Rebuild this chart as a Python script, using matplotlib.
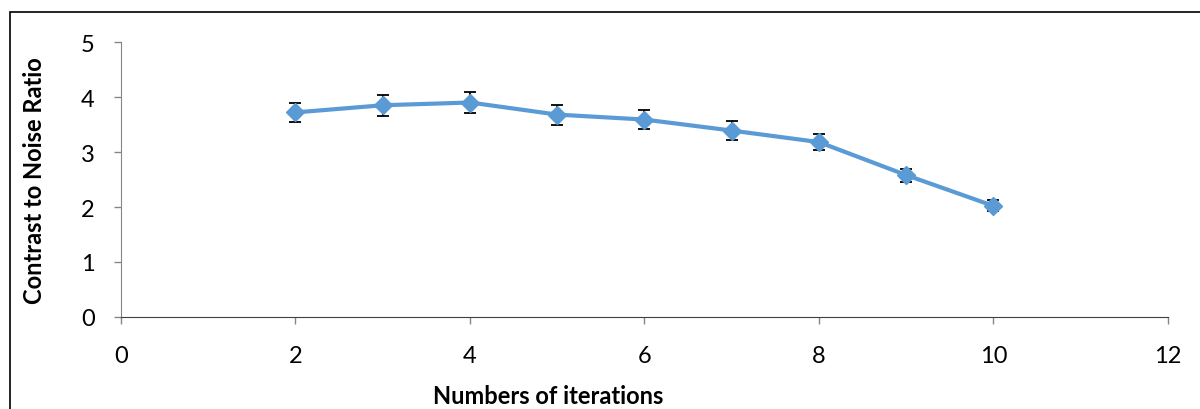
import matplotlib.pyplot as plt
from matplotlib.patches import Rectangle

iterations = [2, 3, 4, 5, 6, 7, 8, 9, 10]
cnr = [3.72, 3.85, 3.90, 3.68, 3.59, 3.39, 3.18, 2.58, 2.02]
cnr_err = [0.18, 0.19, 0.19, 0.18, 0.18, 0.17, 0.15, 0.12, 0.10]
xticks = [0, 2, 4, 6, 8, 10, 12]
yticks = [0, 1, 2, 3, 4, 5]

plt.rcParams['font.family'] = ['Lato', 'DejaVu Sans']

fig = plt.figure(figsize=(12, 4.1), dpi=100)
ax = fig.add_axes([0.1008, 0.2244, 0.8725, 0.6707])

ax.errorbar(iterations, cnr, yerr=cnr_err, color='#5B9BD5', lw=3,
            marker='D', markersize=9.5, ecolor='black', elinewidth=1.3,
            capsize=4.5, capthick=1.3, zorder=3)

ax.set_xlim(0, 12)
ax.set_ylim(0, 5)
ax.set_xticks(xticks)
ax.set_yticks(yticks)
ax.tick_params(labelsize=17, direction='out', length=5, width=1,
               color='#868686')
ax.tick_params(axis='y', pad=14)
ax.tick_params(axis='x', pad=15)
for s in ['top', 'right']:
    ax.spines[s].set_visible(False)
ax.spines['left'].set_color('#868686')
ax.spines['bottom'].set_color('#404040')

fig.text(548 / 1200, 1 - 397 / 410, 'Numbers of iterations', ha='center',
         va='center', fontsize=17, fontweight='bold')
fig.text(35 / 1200, 1 - 181 / 410, 'Contrast to Noise Ratio', ha='center',
         va='center', rotation=90, fontsize=17, fontweight='bold')

fig.patches.append(Rectangle((10 / 1200, -0.1), 1.1, 1 - 13 / 410 + 0.1,
                             transform=fig.transFigure, fill=False,
                             edgecolor='black', lw=1.2))

fig.savefig('out.png', dpi=100)
